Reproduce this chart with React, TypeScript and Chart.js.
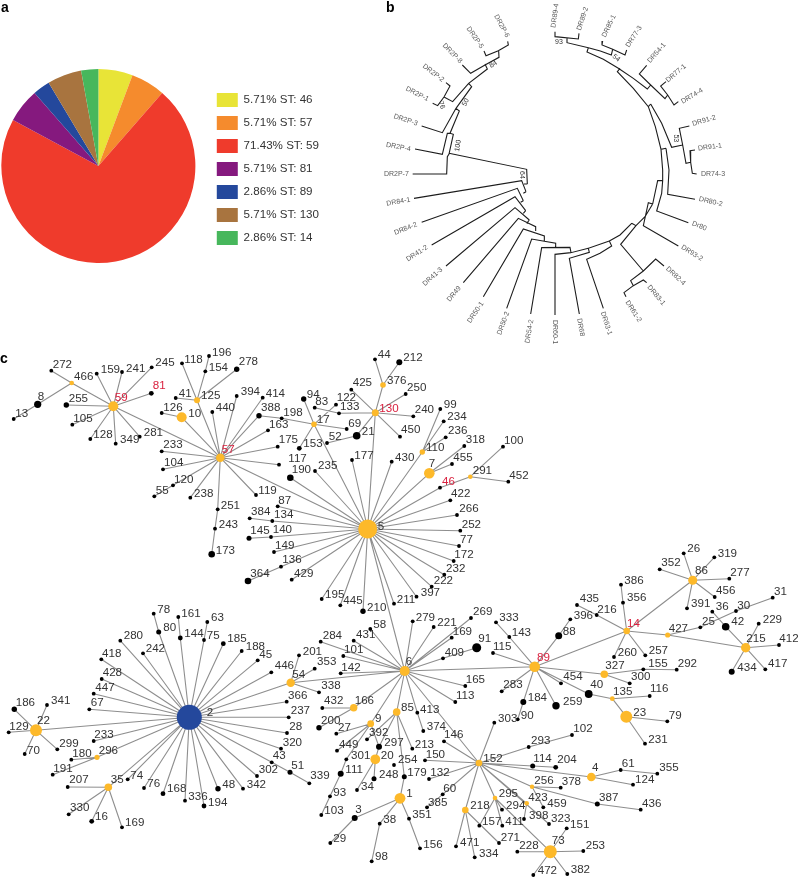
import React, { useEffect, useRef } from "react";
import { Chart, registerables } from "chart.js";
Chart.register(...registerables);

const FONT = '"Liberation Sans", Arial, sans-serif';

// panel a
const stLabels = ["5.71% ST: 46", "5.71% ST: 57", "71.43% ST: 59", "5.71% ST: 81", "2.86% ST: 89", "5.71% ST: 130", "2.86% ST: 14"];
const stShares = [5.71, 5.71, 71.43, 5.71, 2.86, 5.71, 2.86];
const stColours = ["#e8e437", "#f58b2d", "#ef3b2c", "#85197e", "#24489c", "#a8743f", "#47b75c"];

// panel b: tree units
const treeBranches: number[][][] = [
  [[555,95],[555,110],[625,117],[627,100]],
  [[591,113],[591,128],[655,143],[691,153],[724,165],[728,148]],
  [[698,123],[696,135],[728,148],[765,165],[770,150]],
  [[655,143],[651,156],[700,178],[745,205],[790,235],[832,267],[842,255]],
  [[830,196],[808,222],[842,255],[885,296],[893,285]],
  [[888,245],[872,258],[893,285],[912,315],[925,305]],
  [[750,205],[742,215],[790,265],[835,320],[856,380],[873,448],[888,445]],
  [[842,312],[835,320]],
  [[842,312],[875,370],[905,442],[938,435]],
  [[958,378],[928,385],[938,435],[948,490],[962,487]],
  [[975,450],[960,452],[962,487],[967,520],[980,522]],
  [[873,448],[878,510],[878,542]],
  [[888,445],[897,510],[893,583],[975,598]],
  [[878,542],[863,542],[848,612]],
  [[878,542],[875,580],[860,633],[955,668]],
  [[848,612],[835,608],[820,677],[925,738]],
  [[848,612],[825,650],[798,677],[785,670]],
  [[798,677],[752,733],[820,813]],
  [[882,798],[857,777],[820,813],[782,842],[790,857],[820,840],[830,848]],
  [[790,857],[762,878],[768,890]],
  [[785,670],[750,705],[718,723],[725,738],[690,760],[650,778],[700,925]],
  [[718,723],[655,745],[658,757],[598,775],[628,942]],
  [[655,745],[603,758],[600,742],[515,743],[482,942]],
  [[603,758],[555,763],[555,945]],
  [[557,745],[557,730],[485,717],[410,925]],
  [[523,723],[523,708],[460,687],[340,890]],
  [[497,693],[497,680],[445,655],[280,848]],
  [[478,660],[435,623],[228,798]],
  [[478,660],[470,670]],
  [[467,632],[435,590],[185,735]],
  [[467,632],[460,640]],
  [[460,602],[442,565],[155,667]],
  [[460,602],[452,607]],
  [[468,575],[455,542],[132,595]],
  [[468,575],[460,580]],
  [[472,552],[462,552]],
  [[237,460],[470,508],[472,552]],
  [[413,124],[415,135],[385,152],[348,167],[342,153]],
  [[386,154],[387,172],[345,195],[302,220],[277,195]],
  [[345,192],[352,207],[296,250],[248,305],[222,291]],
  [[228,248],[240,258],[222,291],[203,317],[188,310]],
  [[296,250],[305,260],[258,325],[217,398],[155,378]],
  [[258,325],[268,333],[240,400],[232,400],[217,463],[135,447]],
  [[240,400],[250,403],[237,462],[232,470],[230,522],[128,522]],
];
const treeTips: [string, number, number, number][] = [
  ["DR2P-6",395,78,61],["DR2P-5",315,113,55],["DR2P-8",247,160,46],["DR2P-2",190,219,37],["DR2P-1",142,282,27],
  ["DR2P-3",107,360,18],["DR2P-4",85,441,10],["DR2P-7",79,523,0],["DR84-1",85,605,-10],["DR84-2",107,686,-22],
  ["DR41-2",141,760,-33],["DR41-3",188,830,-42],["DR49",252,882,-50],["DR50-1",317,937,-56],["DR50-2",400,970,-70],
  ["DR54-2",478,994,-80],["DR60-1",555,996,90],["DR68",632,982,80],["DR63-1",709,970,72],["DR61-2",790,934,57],
  ["DR83-1",859,886,50],["DR82-4",917,828,43],["DR93-2",966,759,32],["Dr80",988,678,22],["DR80-2",1022,605,13],
  ["DR74-3",1029,522,0],["DR91-1",1020,441,-7],["DR91-2",1002,362,-17],["DR74-4",966,288,-31],["DR77-1",918,220,-40],
  ["DR54-1",860,159,-49],["DR77-3",792,110,-57],["DR85-1",717,78,-64],["DR89-2",638,56,-72],["DR89-4",555,47,-82],
];
const treeSupport: [string, number, number, number][] = [
  ["93",567,125,0],["54",739,174,40],["84",370,193,-30],["50",287,307,-60],["76",215,315,70],["100",264,437,-80],["53",918,415,90],["64",455,525,90],
];

// panel c: [id, x, y, labelX, labelY, size]
const yellowNodes: [string, number, number, number, number, number][] = [
  ["466",71.7,383,74,376.7,2.3],["59",113.3,406.3,114.7,397.3,5],["10",181.7,417.3,188.3,413.7,5],["125",197,400.3,201,395.3,3],
  ["57",220.3,457.7,221.7,450,4.3],["17",314,424.3,316.7,420,2.8],["376",383,385,387,381,2.8],["130",375.3,412.7,379.3,408.7,3.5],
  ["110",422.3,452,426,447.7,2.7],["7",429.3,473.3,428.7,464,5.3],["291",470.3,476.7,472.7,471,2.3],["5",367.7,529,377.7,526.7,9.5],
  ["6",404.7,671,405.7,661.7,5],["54",290.7,682.7,292.3,674.7,4.2],["89",534.7,666.7,537,657.3,5.3],["166",353.7,707.7,354.7,700.7,3.7],
  ["9",370.7,723.7,375,718.7,3.4],["85",396.7,712,401,707.3,3.8],["20",375.3,759.3,380.7,755.3,4.9],["152",479,763,483.3,758.7,3.3],
  ["1",400,798.3,406.3,794,5.4],["218",465.3,810,470.3,806,3.3],["295",495,798,498.7,794,2.3],["423",526.7,803.3,528.3,797.3,2.3],
  ["4",591.3,777,592,768,4.3],["256",532,786.7,534.3,780.7,2.2],["73",550.3,851.7,551.7,840.7,6.5],["23",626.3,716.7,633.3,712.3,6],
  ["86",692.7,580.3,695,571,4.5],["14",626.7,631,627,623.7,3.3],["427",667.7,635,668.7,628.3,2.6],["215",745.7,647.7,746.3,638.7,4.7],
  ["327",604.3,674.3,605.3,666,3.8],["135",612.3,698.7,613,691.7,2.4],["22",36,730.3,37,720.3,6],["296",97,757.3,98.7,750.3,2.6],["35",108.3,787.3,110.7,779.3,3.8],
];
const blueNodes: [string, number, number, number, number, number][] = [["2",189.3,717.3,206.7,712.7,12.5]];
const blackNodes: [string, number, number, number, number, number?][] = [
  ["13",13.7,419,15.3,414],["8",37.7,404.3,37.7,396.3,3.6],["272",51.3,370.7,52.7,364.3],["159",96.7,373.7,100.7,369.3],["241",122,372,126,368.3],
  ["245",151.7,367.3,155.3,362.7],["81",151.3,393.3,152.7,386,2.4],["255",66.3,405,68.7,398.3,2.7],["105",72.3,424.7,73.3,418.7],["128",90.3,439,93.3,435],
  ["349",115.7,443.7,120,440],["281",139.7,436.7,143.7,432.7],["126",161.7,413,163.3,407.3],["41",175.7,398,178.7,394],["118",182,363.3,184.3,359.3],
  ["196",209,356,212,352.7],["154",205.3,371.3,208.7,367.3],["278",236.7,369.3,238.7,362,2.7],["440",212.3,412,215.7,407.3],["394",236.7,396,240.7,392],
  ["414",262.7,397.7,265.7,393.3],["233",161.7,451.3,163.3,444.3],["104",163,469.3,164,463],["120",173,485.3,174,479.3],["55",154.3,496.3,155.7,490.3],
  ["238",190.3,497.7,194,493.7],["251",217.7,509.3,220.7,505.3],["243",215,528.7,218.7,524.3],["173",211.7,554.3,215.7,550.7,3.3],["119",256,495,258.3,491],
  ["117",279,464.7,288.3,458.3],["388",259,415.7,261,407.3,2.7],["163",268,430.3,269,424.3],["198",281.7,418.3,283.3,412.3],["175",277.7,446.7,278.7,439.7],
  ["94",303.7,399,306.7,395,2.7],["83",314.7,407.7,315.3,401.7],["122",336,404.7,336.7,398],["133",339,413.3,340,406.7],["69",346.7,429,348.3,423.3],
  ["21",356.7,435.7,361.7,431.3,3.8],["52",327,443,328.7,436.7],["153",299.3,448.3,303.3,444,2.4],["425",351.3,389.7,352.7,382.7],["44",375,359.3,377.7,355],
  ["212",399.3,362.3,403.3,357.7,3],["250",405.7,394,407,387.7],["240",413.3,416.3,414.7,409.3],["450",400,436.7,401,430],["177",352,460,354.3,455.7],
  ["235",315,471,318,465.7],["190",290.3,477.7,291.7,469.7,3.3],["430",391.7,461.7,395,457.3],["99",440.3,409,443.7,404.3],["234",443.7,421.3,447.3,416.7],
  ["236",445.7,437.3,448,430.3],["318",464.3,446,465.7,439.3],["455",452,464,453.3,457.3],["100",503,446.7,504,440.7],["452",508.3,481.7,509.3,475.3],
  ["46",440,487.7,442,481.3],["422",450.3,500.3,451,494],["266",457,515,459.3,508.7],["252",460.3,530.7,461.7,524.3],["77",459,546,460,540],
  ["172",453.7,561,454.3,554.3],["232",444.3,574.7,446,568.3],["222",431.7,586.7,433.7,580.3],["397",416.5,596.7,420.7,592.5],["87",277.7,506.3,278.3,500.3],
  ["384",249.7,518.3,251,511.7],["134",272.3,521,274,514.7],["145",249,538.3,250.3,530.7,2.5],["140",271,537,272.7,530],["149",274,552,275,546],
  ["136",281,566.7,282.3,560],["364",248,581,250.3,574,3.3],["429",291.7,579.7,294,574],["195",321.7,599,325,595],["445",340.3,605.3,343.3,601],
  ["210",363,611.3,367,607.7,2.7],["211",394,603.7,396.7,599.3],["279",412.7,621.3,415.7,617.3],["58",370.3,629,373.3,625],["431",353.7,640.7,356,634.3],
  ["284",320.7,641.7,322.7,635.7],["101",343.3,656,344,649.7],["201",299,655.3,302.7,651.7],["353",314.7,668.7,317,662],["142",340.7,673.3,341.3,667.7],
  ["446",271.3,672.3,274.7,666],["338",319,692.3,321.3,686],["366",286.7,701.7,288,695.3],["237",288.7,717.3,290.7,710.7],["28",287,733,289.3,726.7],
  ["320",281,748.7,282.7,742.3],["43",271.7,762.3,272.7,755.7],["51",290,772.3,291.3,765.3,2.5],["339",309.3,783.3,310.3,776],["302",257,776,258.7,770],
  ["269",471,618,473,611.7],["221",433.7,627,437.3,622.3],["169",451.7,637.7,452.7,631.3],["91",476.7,647.7,478.3,639,4.5],["409",443,658.3,444.7,652.3],
  ["333",496,622.3,499.3,617.7],["143",509.3,637,511.7,632.7],["115",493,653,493,647],["165",465.3,686,465.7,680],["113",455.3,702,456,696],
  ["283",501.7,691.3,503.3,685],["184",523.3,702,527.7,697.3,3],["90",517.7,719.3,520.7,715.7],["303",494.3,722.7,498,718.3],["432",322.3,708,324,701],
  ["200",319,727.7,321,721,2.7],["27",336.3,733.7,338,727.7],["413",417.3,712.7,420,709.3],["374",423.3,731,426.7,726.7],["392",367,739.3,369,733],
  ["449",337,750.7,339,744.3],["297",379,746.7,384.3,742.3,3],["213",412.3,748.7,414.7,745],["301",346.3,759.3,351,755.3],["254",394,765,398,760],
  ["150",425,760.3,425.7,754.3],["146",444,741.3,444,734.7],["111",340.7,773.7,345.3,769.3,3],["248",374,778.7,379,774.7,2.5],["179",404.3,776.7,407.3,772.7,2.5],
  ["132",429,779,430.3,772.7],["34",357,790,361,786.7],["60",442.7,794.3,443.3,788.3],["93",330,796.3,333.3,792.3],["385",427,807.3,428,802.3],
  ["103",321.3,815,324.3,810.7],["3",354.7,818,355.3,810,3],["38",379.7,823.7,383.3,819.7],["351",409,818.7,412.3,815],["29",330.3,843,333.3,838.7],
  ["156",420,848.3,423.3,844.3],["98",371.7,861.3,375,857],["294",502,809.7,506,805.7],["398",524,819,529,815.3],["157",479.3,825.7,482,822],
  ["411",502.3,825.7,505.3,822],["271",499,843,500.7,837.7],["471",456,846.3,460,843],["334",474.7,857.3,479,853.7],["228",517.3,851.7,519.3,846],
  ["293",528.7,747,531,741],["102",572,735,573.3,729],["114",532.7,766,533.3,758.7,2.5],["204",555.7,767.3,557.3,760,2.4],["61",620.7,770,621.7,764],
  ["355",657.3,773.7,659.3,767.7],["124",633,784.7,635,780],["378",560.7,787.7,561.7,782],["387",597.3,804,599,797.3,2.5],["436",640.7,809.7,642,804],
  ["459",543.3,807.3,547.3,804],["323",549,824,551,818.3],["151",566.7,828.3,570,824.3],["253",583.3,851,585.7,845.7],["382",567.3,874,570.7,870],
  ["472",533.3,875,537.7,871],["79",667.3,721.3,668.7,715.3],["231",645,743.7,648.3,739.3],["26",683.7,553.3,687.3,549],["319",714.3,557.3,717.7,553.3],
  ["352",659.7,569.3,661.3,562.3],["277",729.3,578.7,730.3,572.7],["456",714.7,597,716,590.3],["391",687,608.3,691,603.3],["386",621,584.7,624.3,580.3],
  ["356",623,602.7,627,598],["435",577,605,579.7,599],["216",596.7,615,597.3,609.3],["396",570.3,619.3,573.7,615.3],["88",558.7,635.7,562.7,632,3.5],
  ["25",700.3,627.3,702,622],["36",712.3,611.7,715.7,607],["30",736,611,737.3,605.3],["31",772.7,597.7,774,591.3],["42",725.7,626.7,731.3,622,3.8],
  ["229",758.7,623.7,762.7,619.3],["412",779,645,779.3,638.3],["417",765.3,669.3,768,664],["434",731.7,671.7,737.3,667.7,3],["260",614,657,617.7,652.7],
  ["257",645.3,655.3,648.7,650.7],["155",643.3,669.3,648.3,663.3],["292",676.7,669.7,677.7,663.3],["300",629.7,683.3,631,676.3],["454",561,683.3,563.3,677],
  ["40",588.7,694,590.3,684.3,3.9],["116",649.7,696,650,689],["259",556,705.7,563,701.7,3.7],["78",153.7,613.7,157.3,609.3],["161",178.3,617,181.3,613.3],
  ["63",207.3,622,211,618],["80",158.7,632,163.3,628,2.5],["144",180.3,638,184.3,633.7,2.4],["75",204,640,206.7,635.7],["185",223.3,643.7,227.3,639,2.4],
  ["188",241.7,651,245.7,646.7],["45",257.7,660.3,259.3,654.3],["280",120.3,640.7,123.7,636],["242",143,653.3,145.7,649],["418",101.3,659.3,102,653.3],
  ["428",101.7,679,102.7,672.7],["447",93.7,693.7,95.3,687.3],["67",89.3,709.3,90.7,703],["186",14.3,709.3,15.7,702.7,2.7],["341",47,705,51,701],
  ["129",8.7,732.3,9.3,726.3],["70",24.7,754,27,750.3],["299",57.3,749.3,59.3,743.3],["233b",93.7,741,94.3,734.3],["180",71.3,759.7,72.3,753.7],
  ["191",52.7,774.7,53.3,769],["74",127.7,779.3,130.3,775.3],["207",67.7,787,69.3,780],["330",68.7,814.3,70,807.3],["16",91.7,821.3,95,817,2.4],
  ["169b",122,827.3,125,822.3],["76",144,788,147.3,784],["168",163,793.7,167,788.7,2.4],["336",185,800.7,188.3,796.3],["194",204,806,208,802.7,2.4],
  ["48",218,788.7,222.3,784.7,2.7],["342",243,788.7,246.7,785],
];
const stLinkedLabels = ["59", "81", "57", "130", "46", "89", "14"];
const edges: string[] = (
  "13-8 8-466 466-272 466-59 59-159 59-241 59-245 59-81 59-255 59-105 59-128 59-349 59-281 59-57 " +
  "57-10 10-126 57-125 125-41 125-118 125-154 154-196 125-278 57-440 57-394 57-414 57-388 57-163 57-175 57-117 57-119 57-5 " +
  "57-233 57-104 57-120 120-55 57-238 57-251 251-243 243-173 " +
  "17-94 17-122 17-153 17-5 17-198 198-388 17-69 130-133 133-83 130-5 130-425 130-376 376-44 376-212 130-250 130-240 130-450 130-21 21-52 " +
  "5-177 5-235 5-190 5-430 5-110 110-99 110-234 110-236 5-7 7-318 7-455 5-46 46-291 291-100 291-452 5-422 5-266 5-252 5-77 5-172 5-232 5-222 5-397 5-211 5-210 5-445 5-195 " +
  "5-429 5-136 136-364 5-149 5-140 140-145 5-134 134-384 5-87 5-6 " +
  "6-279 6-58 6-431 6-284 6-101 6-142 6-54 54-201 54-353 54-338 6-269 6-221 6-169 6-409 409-91 6-89 6-165 6-113 6-413 413-374 6-152 6-166 166-432 166-200 6-9 6-85 " +
  "9-27 9-449 9-301 301-111 111-93 93-103 9-297 85-392 85-297 297-20 20-34 20-248 85-179 85-213 179-1 1-3 3-29 1-38 38-98 1-351 351-156 " +
  "152-146 152-150 152-132 152-60 60-385 152-303 152-293 293-102 152-114 114-204 152-4 4-61 61-355 4-124 152-256 256-378 256-387 387-436 256-459 152-218 218-471 218-334 218-271 " +
  "152-295 295-157 295-411 295-294 295-73 152-423 423-398 152-323 73-228 73-151 73-253 73-382 73-472 " +
  "89-143 143-333 89-115 89-283 89-184 184-90 89-88 88-396 89-14 89-259 89-454 89-40 40-135 135-116 135-23 23-79 23-231 89-327 327-155 155-292 327-300 " +
  "14-356 356-386 14-216 216-435 14-260 14-257 14-86 14-427 427-25 25-30 30-31 427-215 86-26 86-319 86-352 86-277 86-456 86-391 215-42 42-36 215-229 215-412 215-417 215-434 " +
  "2-80 80-78 2-144 144-161 2-75 75-63 2-185 2-188 2-45 2-446 2-54 2-366 2-237 2-28 2-320 2-43 43-51 51-339 2-302 2-342 2-48 2-194 2-336 2-168 2-76 2-35 2-74 " +
  "2-280 2-242 2-418 2-428 2-447 2-67 2-22 2-233b 2-296 296-180 296-191 22-186 22-341 22-129 22-70 22-299 35-207 35-330 35-16 35-169b"
).split(" ");
const panelLetters: [string, number, number][] = [["a", 1, 8], ["b", 386, 8], ["c", 0, 359]];

const allNodes = [...yellowNodes, ...blueNodes, ...blackNodes];
const nodeOf = (id: string) => allNodes.find((n) => n[0] === id)!;
const toPoints = (list: any[]) => list.map((n) => ({ x: n[1], y: n[2], r: n[5] ?? 1.9 }));
const edgePoints: any[] = [];
edges.forEach((e) => {
  const [a, b] = e.split("-");
  const na = nodeOf(a), nb = nodeOf(b);
  edgePoints.push({ x: na[1], y: na[2] }, { x: nb[1], y: nb[2] }, { x: null, y: null });
});
const treePoints: any[] = [];
treeBranches.forEach((b) => {
  b.forEach((p) => treePoints.push({ x: p[0], y: p[1] }));
  treePoints.push({ x: null, y: null });
});

const textPlugin = {
  id: "networkText",
  afterDatasetsDraw(chart: any) {
    const { ctx, scales } = chart;
    ctx.save();
    ctx.textBaseline = "middle";
    ctx.textAlign = "left";
    ctx.font = `11.6px ${FONT}`;
    allNodes.forEach((n) => {
      const label = String(n[0]).replace(/b$/, "");
      ctx.fillStyle = stLinkedLabels.includes(label) && n[0] !== "233b" ? "#d9213f" : "#333";
      ctx.fillText(label, scales.x.getPixelForValue(n[3]), scales.y.getPixelForValue(n[4]));
    });
    ctx.textAlign = "center";
    const rotated = (list: [string, number, number, number][], colour: string) => {
      ctx.fillStyle = colour;
      list.forEach(([t, x, y, a]) => {
        ctx.save();
        ctx.translate(scales.tx.getPixelForValue(x), scales.ty.getPixelForValue(y));
        ctx.rotate((a * Math.PI) / 180);
        ctx.fillText(t, 0, 0);
        ctx.restore();
      });
    };
    ctx.font = `7px ${FONT}`;
    rotated(treeTips, "#5a5a5a");
    rotated(treeSupport, "#333");
    ctx.textAlign = "left";
    ctx.font = `bold 14px ${FONT}`;
    ctx.fillStyle = "#000";
    panelLetters.forEach(([t, x, y]) => ctx.fillText(t, scales.x.getPixelForValue(x), scales.y.getPixelForValue(y)));
    ctx.restore();
  },
};

export default function App() {
  const pieRef = useRef<HTMLCanvasElement>(null);
  const netRef = useRef<HTMLCanvasElement>(null);
  useEffect(() => {
    const pie = new Chart(pieRef.current!, {
      type: "pie",
      data: { labels: stLabels, datasets: [{ data: stShares, backgroundColor: stColours, borderWidth: 0 }] },
      options: {
        animation: false,
        responsive: false,
        events: [],
        plugins: {
          tooltip: { enabled: false },
          legend: {
            position: "right",
            title: { display: true, text: "", font: { size: 1 }, padding: { top: 0, bottom: 5 } },
            labels: { boxWidth: 21, boxHeight: 14, padding: 9, color: "#333", font: { size: 11.6, family: FONT } },
          },
        },
      },
    } as any);
    const node = (data: any[], colour: string, order: number) => ({
      data: toPoints(data),
      backgroundColor: colour,
      borderWidth: 0,
      pointBorderWidth: 0,
      pointRadius: (c: any) => c.raw?.r ?? 0,
      order,
    });
    const net = new Chart(netRef.current!, {
      type: "scatter",
      data: {
        datasets: [
          { data: edgePoints, showLine: true, pointRadius: 0, borderColor: "#8e8e8e", borderWidth: 1.1, order: 5 },
          { data: treePoints, showLine: true, pointRadius: 0, borderColor: "#1c1c1c", borderWidth: 1.1, xAxisID: "tx", yAxisID: "ty", order: 4 },
          node(blackNodes, "#000000", 3),
          node(yellowNodes, "#fdb92a", 2),
          node(blueNodes, "#24489c", 1),
        ],
      },
      options: {
        animation: false,
        responsive: false,
        events: [],
        layout: { padding: 0, autoPadding: false },
        plugins: { legend: { display: false }, tooltip: { enabled: false } },
        scales: {
          x: { type: "linear", display: false, min: 0, max: 798 },
          y: { type: "linear", display: false, min: 0, max: 877, reverse: true },
          tx: { type: "linear", axis: "x", display: false, min: -1110, max: 1284 },
          ty: { type: "linear", axis: "y", display: false, min: 0, max: 2631, reverse: true },
        },
      },
      plugins: [textPlugin],
    } as any);
    return () => {
      pie.destroy();
      net.destroy();
    };
  }, []);
  return (
    <div style={{ position: "absolute", left: 0, top: 0, width: 798, height: 877, background: "#fff", overflow: "hidden" }}>
      <canvas ref={pieRef} width={340} height={194} style={{ position: "absolute", left: -11, top: 69, width: 340, height: 194 }} />
      <canvas ref={netRef} width={798} height={877} style={{ position: "absolute", left: 0, top: 0, width: 798, height: 877 }} />
    </div>
  );
}
